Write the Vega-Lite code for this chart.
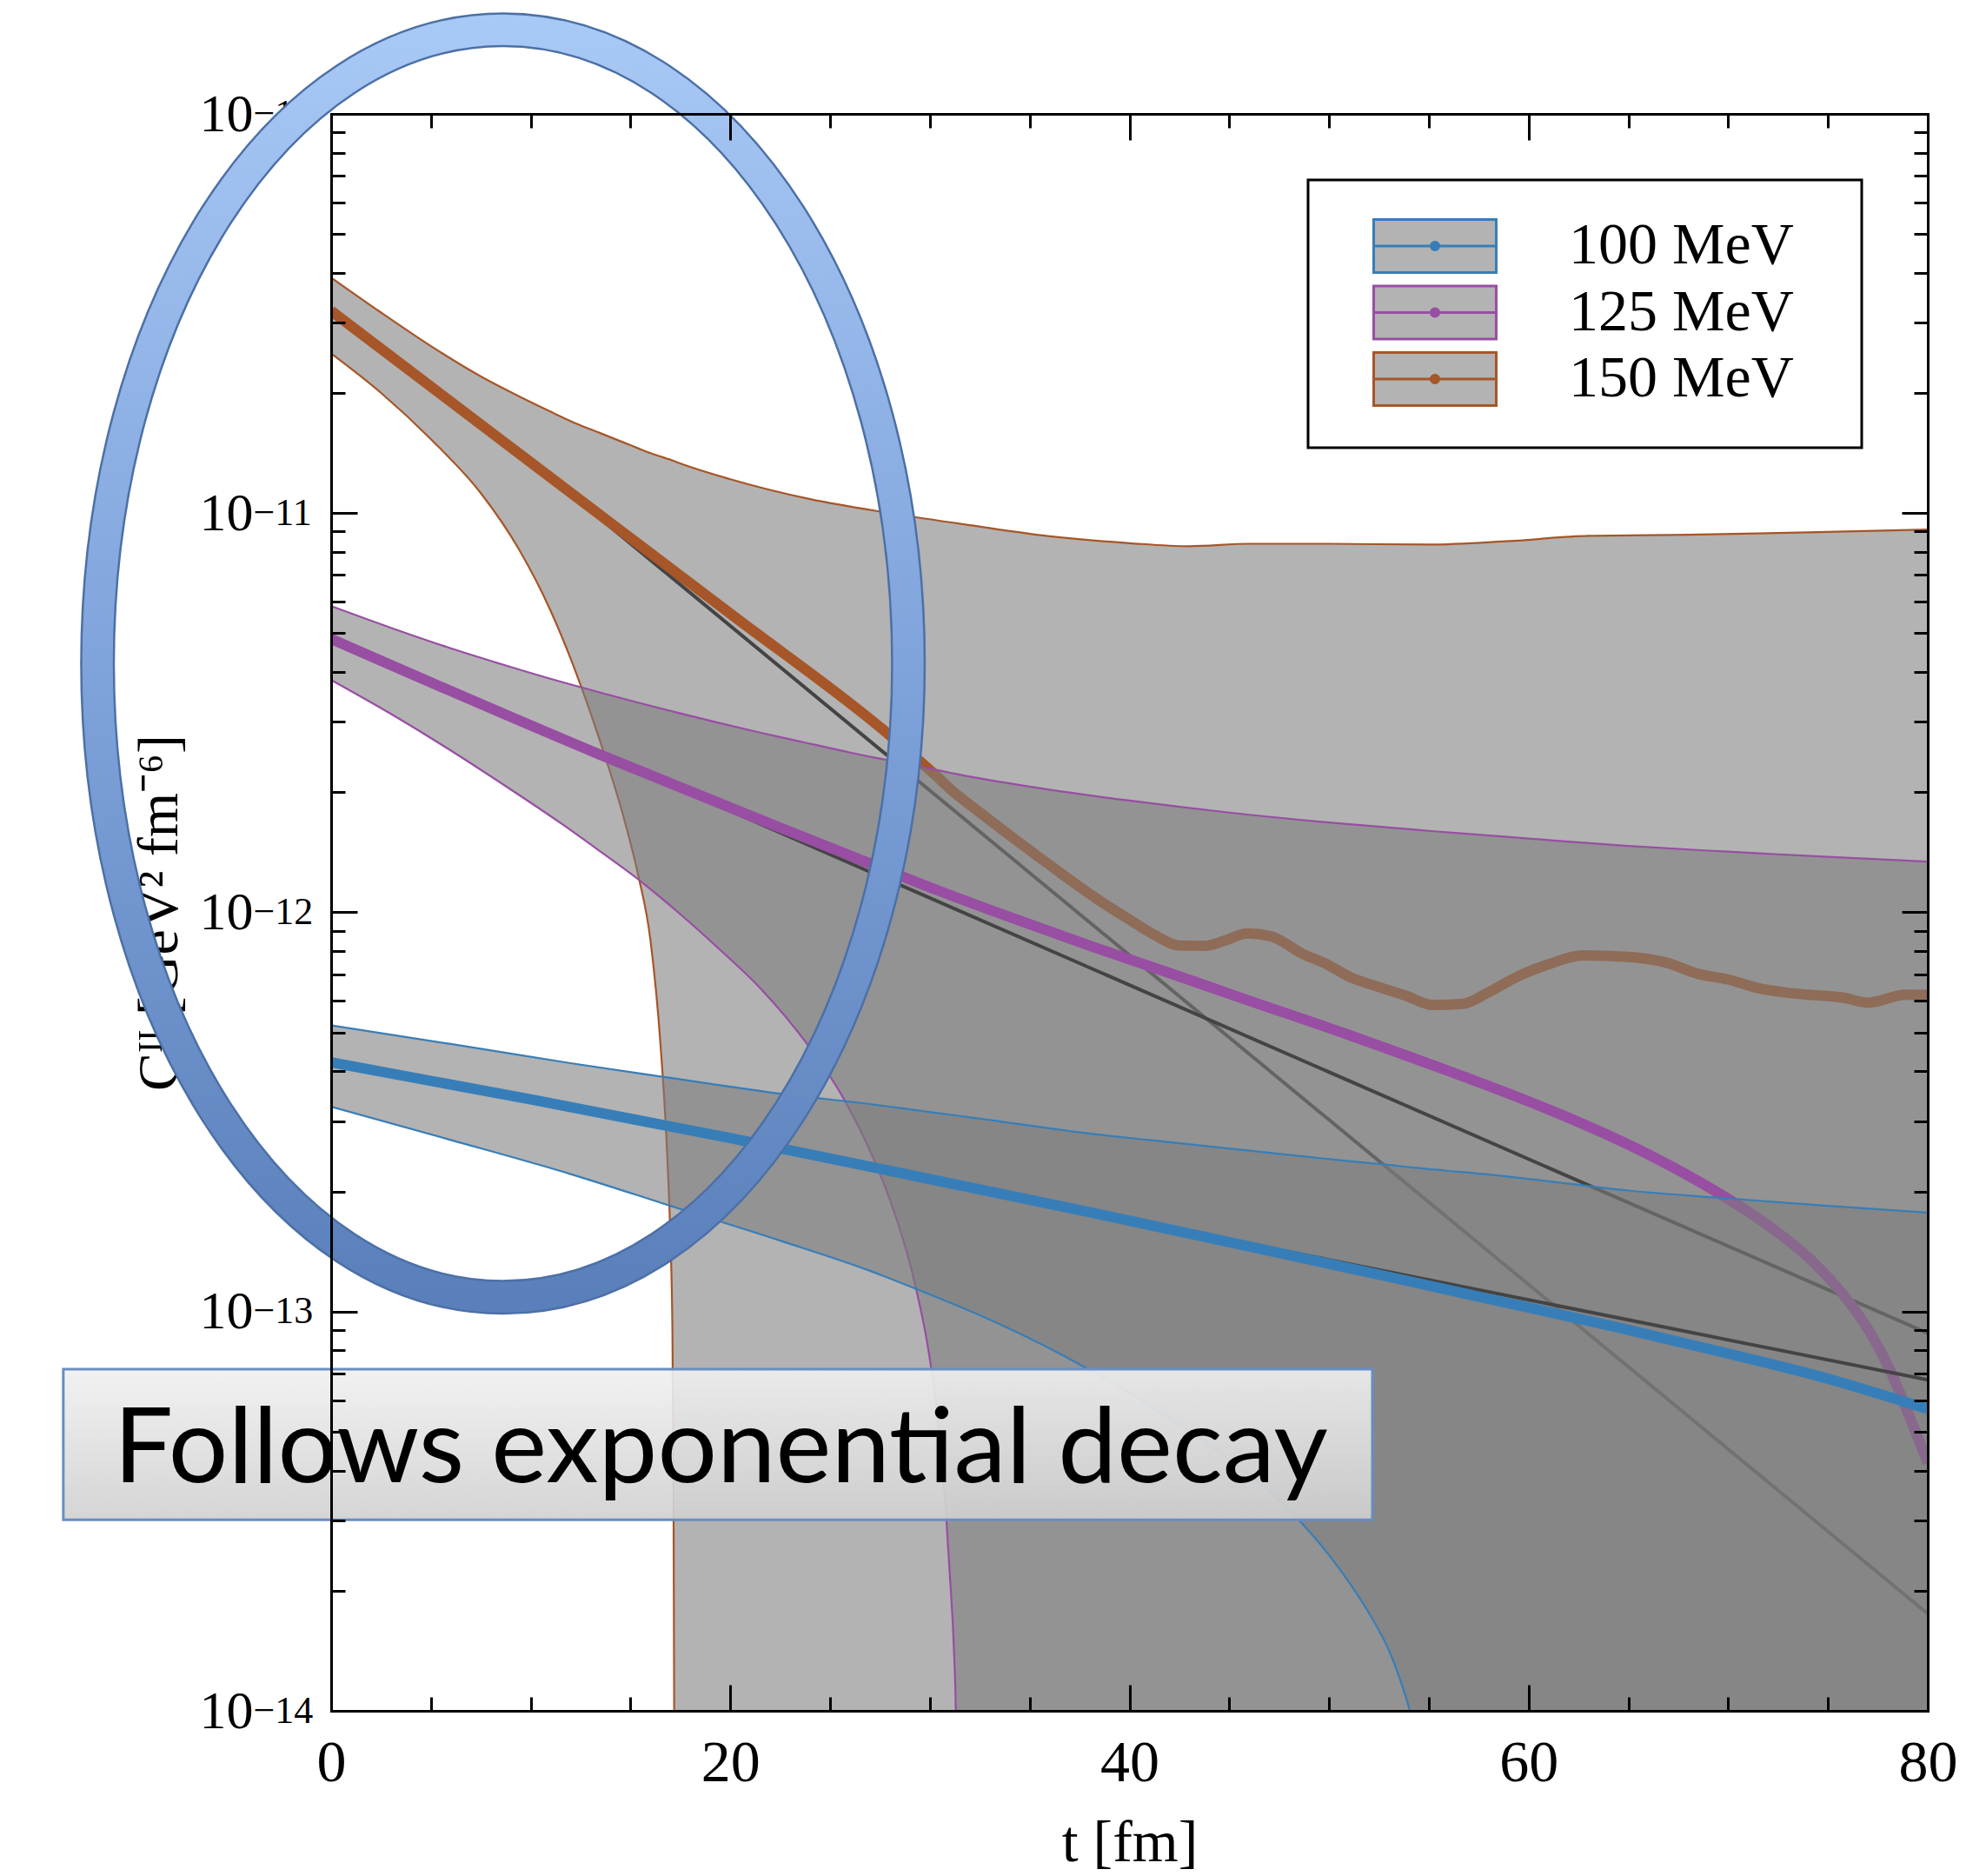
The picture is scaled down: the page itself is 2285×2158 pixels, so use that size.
{
  "$schema": "https://vega.github.io/schema/vega-lite/v6.json",
  "width": 1837,
  "height": 1837,
  "autosize": {"type": "none"},
  "padding": {"left": 381, "top": 131, "right": 67, "bottom": 190},
  "background": "#ffffff",
  "config": {
    "view": {"stroke": null},
    "axis": {"grid": false, "labelColor": "#000000", "tickColor": "#000000", "domainColor": "#000000", "titleColor": "#000000"}
  },
  "datasets": {
    "band": [
      {"s": "150 MeV", "t": 0, "hi": 3.89e-11, "lo": 2.51e-11},
      {"s": "150 MeV", "t": 2.5, "hi": 3.18e-11, "lo": 2.0e-11},
      {"s": "150 MeV", "t": 5, "hi": 2.62e-11, "lo": 1.531e-11},
      {"s": "150 MeV", "t": 7.5, "hi": 2.2e-11, "lo": 1.122e-11},
      {"s": "150 MeV", "t": 9.4, "hi": 1.963e-11, "lo": 8.13e-12},
      {"s": "150 MeV", "t": 11, "hi": 1.795e-11, "lo": 5.69e-12},
      {"s": "150 MeV", "t": 12.2, "hi": 1.683e-11, "lo": 4.07e-12},
      {"s": "150 MeV", "t": 13.5, "hi": 1.585e-11, "lo": 2.66e-12},
      {"s": "150 MeV", "t": 14.7, "hi": 1.5e-11, "lo": 1.698e-12},
      {"s": "150 MeV", "t": 15.4, "hi": 1.452e-11, "lo": 1.23e-12},
      {"s": "150 MeV", "t": 16, "hi": 1.413e-11, "lo": 8.51e-13},
      {"s": "150 MeV", "t": 16.5, "hi": 1.387e-11, "lo": 4.68e-13},
      {"s": "150 MeV", "t": 16.85, "hi": 1.368e-11, "lo": 2.4e-13},
      {"s": "150 MeV", "t": 17.0, "hi": 1.361e-11, "lo": 1.514e-13},
      {"s": "150 MeV", "t": 17.1, "hi": 1.355e-11, "lo": 8.91e-14},
      {"s": "150 MeV", "t": 17.15, "hi": 1.352e-11, "lo": 3.98e-14},
      {"s": "150 MeV", "t": 17.2, "hi": 1.349e-11, "lo": 6.31e-15},
      {"s": "150 MeV", "t": 17.25, "hi": 1.346e-11, "lo": 1e-16},
      {"s": "150 MeV", "t": 20, "hi": 1.216e-11, "lo": 1e-16},
      {"s": "150 MeV", "t": 24, "hi": 1.084e-11, "lo": 1e-16},
      {"s": "150 MeV", "t": 28, "hi": 1.0e-11, "lo": 1e-16},
      {"s": "150 MeV", "t": 32, "hi": 9.33e-12, "lo": 1e-16},
      {"s": "150 MeV", "t": 36, "hi": 8.75e-12, "lo": 1e-16},
      {"s": "150 MeV", "t": 40, "hi": 8.41e-12, "lo": 1e-16},
      {"s": "150 MeV", "t": 43, "hi": 8.26e-12, "lo": 1e-16},
      {"s": "150 MeV", "t": 46, "hi": 8.38e-12, "lo": 1e-16},
      {"s": "150 MeV", "t": 50, "hi": 8.38e-12, "lo": 1e-16},
      {"s": "150 MeV", "t": 55, "hi": 8.34e-12, "lo": 1e-16},
      {"s": "150 MeV", "t": 59, "hi": 8.51e-12, "lo": 1e-16},
      {"s": "150 MeV", "t": 63, "hi": 8.77e-12, "lo": 1e-16},
      {"s": "150 MeV", "t": 68, "hi": 8.83e-12, "lo": 1e-16},
      {"s": "150 MeV", "t": 74, "hi": 8.95e-12, "lo": 1e-16},
      {"s": "150 MeV", "t": 80, "hi": 9.1e-12, "lo": 1e-16},

      {"s": "125 MeV", "t": 0, "hi": 5.85e-12, "lo": 3.82e-12},
      {"s": "125 MeV", "t": 3, "hi": 5.16e-12, "lo": 3.14e-12},
      {"s": "125 MeV", "t": 5.8, "hi": 4.62e-12, "lo": 2.58e-12},
      {"s": "125 MeV", "t": 8.5, "hi": 4.19e-12, "lo": 2.11e-12},
      {"s": "125 MeV", "t": 11.6, "hi": 3.77e-12, "lo": 1.66e-12},
      {"s": "125 MeV", "t": 13.5, "hi": 3.55e-12, "lo": 1.419e-12},
      {"s": "125 MeV", "t": 15.3, "hi": 3.36e-12, "lo": 1.219e-12},
      {"s": "125 MeV", "t": 17.5, "hi": 3.15e-12, "lo": 9.886e-13},
      {"s": "125 MeV", "t": 19.4, "hi": 2.985e-12, "lo": 8.13e-13},
      {"s": "125 MeV", "t": 21.5, "hi": 2.82e-12, "lo": 6.46e-13},
      {"s": "125 MeV", "t": 23.85, "hi": 2.655e-12, "lo": 4.68e-13},
      {"s": "125 MeV", "t": 25.6, "hi": 2.54e-12, "lo": 3.47e-13},
      {"s": "125 MeV", "t": 27.2, "hi": 2.443e-12, "lo": 2.4e-13},
      {"s": "125 MeV", "t": 28.0, "hi": 2.4e-12, "lo": 1.905e-13},
      {"s": "125 MeV", "t": 29.2, "hi": 2.333e-12, "lo": 1.202e-13},
      {"s": "125 MeV", "t": 30.0, "hi": 2.29e-12, "lo": 7.59e-14},
      {"s": "125 MeV", "t": 30.5, "hi": 2.265e-12, "lo": 4.79e-14},
      {"s": "125 MeV", "t": 30.8, "hi": 2.249e-12, "lo": 3.16e-14},
      {"s": "125 MeV", "t": 31.0, "hi": 2.239e-12, "lo": 2.19e-14},
      {"s": "125 MeV", "t": 31.2, "hi": 2.228e-12, "lo": 1.445e-14},
      {"s": "125 MeV", "t": 31.3, "hi": 2.223e-12, "lo": 1.0e-14},
      {"s": "125 MeV", "t": 31.4, "hi": 2.218e-12, "lo": 3.98e-15},
      {"s": "125 MeV", "t": 31.5, "hi": 2.213e-12, "lo": 1e-16},
      {"s": "125 MeV", "t": 35, "hi": 2.065e-12, "lo": 1e-16},
      {"s": "125 MeV", "t": 40, "hi": 1.905e-12, "lo": 1e-16},
      {"s": "125 MeV", "t": 45, "hi": 1.778e-12, "lo": 1e-16},
      {"s": "125 MeV", "t": 50, "hi": 1.679e-12, "lo": 1e-16},
      {"s": "125 MeV", "t": 55, "hi": 1.6e-12, "lo": 1e-16},
      {"s": "125 MeV", "t": 60, "hi": 1.531e-12, "lo": 1e-16},
      {"s": "125 MeV", "t": 65, "hi": 1.466e-12, "lo": 1e-16},
      {"s": "125 MeV", "t": 70, "hi": 1.419e-12, "lo": 1e-16},
      {"s": "125 MeV", "t": 75, "hi": 1.377e-12, "lo": 1e-16},
      {"s": "125 MeV", "t": 80, "hi": 1.34e-12, "lo": 1e-16},

      {"s": "100 MeV", "t": 0, "hi": 5.21e-13, "lo": 3.26e-13},
      {"s": "100 MeV", "t": 6, "hi": 4.68e-13, "lo": 2.69e-13},
      {"s": "100 MeV", "t": 12, "hi": 4.19e-13, "lo": 2.21e-13},
      {"s": "100 MeV", "t": 17, "hi": 3.85e-13, "lo": 1.84e-13},
      {"s": "100 MeV", "t": 22.6, "hi": 3.51e-13, "lo": 1.5e-13},
      {"s": "100 MeV", "t": 27, "hi": 3.31e-13, "lo": 1.265e-13},
      {"s": "100 MeV", "t": 29.4, "hi": 3.19e-13, "lo": 1.135e-13},
      {"s": "100 MeV", "t": 33, "hi": 3.02e-13, "lo": 9.55e-14},
      {"s": "100 MeV", "t": 37.8, "hi": 2.8e-13, "lo": 7.24e-14},
      {"s": "100 MeV", "t": 41, "hi": 2.69e-13, "lo": 5.82e-14},
      {"s": "100 MeV", "t": 44.7, "hi": 2.57e-13, "lo": 4.365e-14},
      {"s": "100 MeV", "t": 48.45, "hi": 2.455e-13, "lo": 3.02e-14},
      {"s": "100 MeV", "t": 50, "hi": 2.41e-13, "lo": 2.455e-14},
      {"s": "100 MeV", "t": 51.1, "hi": 2.38e-13, "lo": 2.065e-14},
      {"s": "100 MeV", "t": 52, "hi": 2.355e-13, "lo": 1.758e-14},
      {"s": "100 MeV", "t": 53.1, "hi": 2.33e-13, "lo": 1.38e-14},
      {"s": "100 MeV", "t": 54, "hi": 2.3e-13, "lo": 1.023e-14},
      {"s": "100 MeV", "t": 54.5, "hi": 2.29e-13, "lo": 8.32e-15},
      {"s": "100 MeV", "t": 55, "hi": 2.275e-13, "lo": 6.03e-15},
      {"s": "100 MeV", "t": 55.5, "hi": 2.265e-13, "lo": 3.55e-15},
      {"s": "100 MeV", "t": 56, "hi": 2.25e-13, "lo": 1.26e-15},
      {"s": "100 MeV", "t": 56.5, "hi": 2.24e-13, "lo": 1e-16},
      {"s": "100 MeV", "t": 60, "hi": 2.15e-13, "lo": 1e-16},
      {"s": "100 MeV", "t": 65, "hi": 2.01e-13, "lo": 1e-16},
      {"s": "100 MeV", "t": 70, "hi": 1.92e-13, "lo": 1e-16},
      {"s": "100 MeV", "t": 75, "hi": 1.84e-13, "lo": 1e-16},
      {"s": "100 MeV", "t": 80, "hi": 1.77e-13, "lo": 1e-16}
    ],
    "curve": [
      {"s": "150 MeV", "k": "mid", "t": 0, "c": 3.21e-11},
      {"s": "150 MeV", "k": "mid", "t": 10, "c": 1.34e-11},
      {"s": "150 MeV", "k": "mid", "t": 20, "c": 5.6e-12},
      {"s": "150 MeV", "k": "mid", "t": 27.9, "c": 2.8e-12},
      {"s": "150 MeV", "k": "mid", "t": 30.35, "c": 2.19e-12},
      {"s": "150 MeV", "k": "mid", "t": 31, "c": 2.04e-12},
      {"s": "150 MeV", "k": "mid", "t": 32.5, "c": 1.78e-12},
      {"s": "150 MeV", "k": "mid", "t": 34.6, "c": 1.48e-12},
      {"s": "150 MeV", "k": "mid", "t": 36.5, "c": 1.26e-12},
      {"s": "150 MeV", "k": "mid", "t": 38.5, "c": 1.07e-12},
      {"s": "150 MeV", "k": "mid", "t": 39.9, "c": 9.66e-13},
      {"s": "150 MeV", "k": "mid", "t": 41.2, "c": 8.81e-13},
      {"s": "150 MeV", "k": "mid", "t": 42.5, "c": 8.26e-13},
      {"s": "150 MeV", "k": "mid", "t": 43.8, "c": 8.24e-13},
      {"s": "150 MeV", "k": "mid", "t": 44.8, "c": 8.51e-13},
      {"s": "150 MeV", "k": "mid", "t": 45.9, "c": 8.85e-13},
      {"s": "150 MeV", "k": "mid", "t": 47.1, "c": 8.71e-13},
      {"s": "150 MeV", "k": "mid", "t": 48.6, "c": 7.91e-13},
      {"s": "150 MeV", "k": "mid", "t": 49.9, "c": 7.41e-13},
      {"s": "150 MeV", "k": "mid", "t": 51.1, "c": 6.87e-13},
      {"s": "150 MeV", "k": "mid", "t": 52.5, "c": 6.5e-13},
      {"s": "150 MeV", "k": "mid", "t": 53.9, "c": 6.17e-13},
      {"s": "150 MeV", "k": "mid", "t": 55.2, "c": 5.86e-13},
      {"s": "150 MeV", "k": "mid", "t": 56.7, "c": 5.9e-13},
      {"s": "150 MeV", "k": "mid", "t": 58.0, "c": 6.31e-13},
      {"s": "150 MeV", "k": "mid", "t": 59.4, "c": 6.89e-13},
      {"s": "150 MeV", "k": "mid", "t": 61.0, "c": 7.41e-13},
      {"s": "150 MeV", "k": "mid", "t": 62.7, "c": 7.8e-13},
      {"s": "150 MeV", "k": "mid", "t": 65.0, "c": 7.73e-13},
      {"s": "150 MeV", "k": "mid", "t": 66.9, "c": 7.48e-13},
      {"s": "150 MeV", "k": "mid", "t": 68.5, "c": 7.01e-13},
      {"s": "150 MeV", "k": "mid", "t": 70.0, "c": 6.79e-13},
      {"s": "150 MeV", "k": "mid", "t": 71.5, "c": 6.46e-13},
      {"s": "150 MeV", "k": "mid", "t": 73.2, "c": 6.27e-13},
      {"s": "150 MeV", "k": "mid", "t": 75.8, "c": 6.11e-13},
      {"s": "150 MeV", "k": "mid", "t": 77.0, "c": 5.94e-13},
      {"s": "150 MeV", "k": "mid", "t": 78.9, "c": 6.22e-13},
      {"s": "150 MeV", "k": "mid", "t": 80, "c": 6.21e-13},
      {"s": "150 MeV", "k": "fit", "t": 10.8, "c": 1.25e-11},
      {"s": "150 MeV", "k": "fit", "t": 80, "c": 1.75e-14},

      {"s": "125 MeV", "k": "mid", "t": 0, "c": 4.84e-12},
      {"s": "125 MeV", "k": "mid", "t": 13.5, "c": 2.48e-12},
      {"s": "125 MeV", "k": "mid", "t": 22.6, "c": 1.622e-12},
      {"s": "125 MeV", "k": "mid", "t": 26.7, "c": 1.343e-12},
      {"s": "125 MeV", "k": "mid", "t": 30.4, "c": 1.135e-12},
      {"s": "125 MeV", "k": "mid", "t": 34, "c": 9.73e-13},
      {"s": "125 MeV", "k": "mid", "t": 38.1, "c": 8.22e-13},
      {"s": "125 MeV", "k": "mid", "t": 42, "c": 7.05e-13},
      {"s": "125 MeV", "k": "mid", "t": 45.9, "c": 6.03e-13},
      {"s": "125 MeV", "k": "mid", "t": 50.9, "c": 4.95e-13},
      {"s": "125 MeV", "k": "mid", "t": 53.1, "c": 4.52e-13},
      {"s": "125 MeV", "k": "mid", "t": 55.8, "c": 4.04e-13},
      {"s": "125 MeV", "k": "mid", "t": 60.6, "c": 3.27e-13},
      {"s": "125 MeV", "k": "mid", "t": 63.55, "c": 2.83e-13},
      {"s": "125 MeV", "k": "mid", "t": 66.46, "c": 2.41e-13},
      {"s": "125 MeV", "k": "mid", "t": 69.38, "c": 2.0e-13},
      {"s": "125 MeV", "k": "mid", "t": 72.3, "c": 1.603e-13},
      {"s": "125 MeV", "k": "mid", "t": 74.24, "c": 1.334e-13},
      {"s": "125 MeV", "k": "mid", "t": 76.19, "c": 1.035e-13},
      {"s": "125 MeV", "k": "mid", "t": 77.2, "c": 8.71e-14},
      {"s": "125 MeV", "k": "mid", "t": 78.14, "c": 7.08e-14},
      {"s": "125 MeV", "k": "mid", "t": 79.1, "c": 5.43e-14},
      {"s": "125 MeV", "k": "mid", "t": 80, "c": 4.17e-14},
      {"s": "125 MeV", "k": "fit", "t": 16.5, "c": 2.14e-12},
      {"s": "125 MeV", "k": "fit", "t": 80, "c": 8.83e-14},

      {"s": "100 MeV", "k": "mid", "t": 0, "c": 4.21e-13},
      {"s": "100 MeV", "k": "mid", "t": 10, "c": 3.4e-13},
      {"s": "100 MeV", "k": "mid", "t": 20, "c": 2.72e-13},
      {"s": "100 MeV", "k": "mid", "t": 30, "c": 2.148e-13},
      {"s": "100 MeV", "k": "mid", "t": 38.1, "c": 1.77e-13},
      {"s": "100 MeV", "k": "mid", "t": 45, "c": 1.493e-13},
      {"s": "100 MeV", "k": "mid", "t": 50.9, "c": 1.288e-13},
      {"s": "100 MeV", "k": "mid", "t": 53.1, "c": 1.219e-13},
      {"s": "100 MeV", "k": "mid", "t": 58, "c": 1.076e-13},
      {"s": "100 MeV", "k": "mid", "t": 64.5, "c": 9.12e-14},
      {"s": "100 MeV", "k": "mid", "t": 70, "c": 7.85e-14},
      {"s": "100 MeV", "k": "mid", "t": 75, "c": 6.79e-14},
      {"s": "100 MeV", "k": "mid", "t": 80, "c": 5.7e-14},
      {"s": "100 MeV", "k": "fit", "t": 35, "c": 1.905e-13},
      {"s": "100 MeV", "k": "fit", "t": 80, "c": 6.745e-14}
    ],
    "ann": [
      {"k": "ellipse", "t": 8.61, "c": 4.2e-12},
      {"k": "box", "t1": -13.42, "t2": 52.17, "c1": 7.17e-14, "c2": 3.01e-14},
      {"k": "text", "t": -10.9, "c": 3.73e-14, "label": "Follows exponen\u200ctial decay"}
    ]
  },
  "resolve": {"axis": {"x": "independent", "y": "independent"}},
  "layer": [
    {
      "data": {"name": "band"},
      "transform": [{"filter": "datum.s === '150 MeV'"}],
      "mark": {"type": "area", "interpolate": "monotone", "fill": "#7c7c7c", "fillOpacity": 0.58, "clip": true},
      "encoding": {
        "x": {"field": "t", "type": "quantitative", "scale": {"domain": [0, 80], "nice": false, "zero": false},
          "axis": {"orient": "bottom", "values": [0, 20, 40, 60, 80], "ticks": false, "domain": false, "labelFont": "Liberation Serif", "labelFontSize": 68, "labelPadding": 26, "labelFlush": false, "labelOverlap": false, "format": "d", "title": "t [fm]", "titleFont": "Liberation Serif", "titleFontSize": 68, "titleFontWeight": "normal", "titlePadding": 24, "zindex": 0}},
        "y": {"field": "hi", "type": "quantitative", "scale": {"type": "log", "domain": [1e-14, 1e-10], "nice": false},
          "axis": {"orient": "left", "values": [1e-14, 1e-13, 1e-12, 1e-11, 1e-10], "labelExpr": "'10'", "ticks": false, "domain": false, "labelFont": "Liberation Serif", "labelFontSize": 62, "labelPadding": 90, "labelAlign": "right", "labelBaseline": "middle", "labelOverlap": false, "title": "Cᴵᴵ [GeV² fm⁻⁶]", "titleFont": "Liberation Serif", "titleFontSize": 66, "titleFontWeight": "normal", "titlePadding": 12, "zindex": 0}},
        "y2": {"field": "lo"}
      }
    },
    {
      "data": {"name": "band"},
      "transform": [{"filter": "datum.s === '150 MeV'"}],
      "mark": {"type": "line", "interpolate": "monotone", "strokeWidth": 2.2, "clip": true},
      "encoding": {
        "x": {"field": "t", "type": "quantitative", "scale": {"domain": [0, 80], "nice": false, "zero": false},
          "axis": {"orient": "bottom", "values": [0, 20, 40, 60, 80], "labels": false, "domain": true, "domainWidth": 3, "domainCap": "square", "tickSize": -30, "tickWidth": 3, "title": null, "zindex": 1}},
        "y": {"field": "hi", "type": "quantitative", "scale": {"type": "log", "domain": [1e-14, 1e-10], "nice": false},
          "axis": {"orient": "left", "values": [1e-14, 1e-13, 1e-12, 1e-11, 1e-10], "labelExpr": "'−' + round(-log(datum.value)/LN10)", "ticks": false, "domain": false, "labelFont": "Liberation Serif", "labelFontSize": 44, "labelPadding": 90, "labelAlign": "left", "labelBaseline": "middle", "labelDy": -22, "labelOverlap": false, "title": null, "zindex": 0}},
        "color": {"field": "s", "type": "nominal",
          "scale": {"domain": ["100 MeV", "125 MeV", "150 MeV"], "range": ["#377eb8", "#984ea3", "#a65628"]},
          "legend": {"title": null, "orient": "top-right", "offset": 76, "padding": 42, "strokeColor": "#000000", "fillColor": "#ffffff",
            "labelFont": "Liberation Serif", "labelFontSize": 68, "labelColor": "#000000", "labelLimit": 600, "labelOffset": 120,
            "symbolType": "M-2.311,-1H2.311V1H-2.311Z M-2.311,0H2.311 M0.15,0A0.15,0.15 0 1,1 -0.15,0A0.15,0.15 0 1,1 0.15,0Z M0.1,0A0.1,0.1 0 1,1 -0.1,0A0.1,0.1 0 1,1 0.1,0Z M0.05,0A0.05,0.05 0 1,1 -0.05,0A0.05,0.05 0 1,1 0.05,0Z M14.52,0L14.52,0",
            "symbolSize": 3721, "symbolOffset": 70, "symbolStrokeWidth": 3, "symbolFillColor": "#b3b3b3", "rowPadding": 2.5,
            "encode": {"symbols": {"update": {"fill": {"value": "#b3b3b3"}, "strokeWidth": {"value": 3}, "opacity": {"value": 1}}}, "legend": {"update": {"strokeWidth": {"value": 3}}}}}}
      }
    },
    {
      "data": {"name": "band"},
      "transform": [{"filter": "datum.s === '150 MeV'"}],
      "mark": {"type": "line", "interpolate": "monotone", "strokeWidth": 2.2, "clip": true},
      "encoding": {
        "x": {"field": "t", "type": "quantitative", "scale": {"domain": [0, 80], "nice": false, "zero": false},
          "axis": {"orient": "bottom", "values": [5, 10, 15, 25, 30, 35, 45, 50, 55, 65, 70, 75], "labels": false, "domain": false, "tickSize": -16, "tickWidth": 3, "title": null, "zindex": 1}},
        "y": {"field": "lo", "type": "quantitative", "scale": {"type": "log", "domain": [1e-14, 1e-10], "nice": false},
          "axis": {"orient": "left", "values": [1e-14, 1e-13, 1e-12, 1e-11, 1e-10], "labels": false, "domain": true, "domainWidth": 3, "domainCap": "square", "tickSize": -30, "tickWidth": 3, "title": null, "zindex": 1}},
        "color": {"field": "s", "type": "nominal", "scale": {"domain": ["100 MeV", "125 MeV", "150 MeV"], "range": ["#377eb8", "#984ea3", "#a65628"]}, "legend": null}
      }
    },
    {
      "data": {"name": "curve"},
      "transform": [{"filter": "datum.s === '150 MeV' && datum.k === 'fit'"}],
      "mark": {"type": "line", "stroke": "#444444", "strokeWidth": 4, "clip": true},
      "encoding": {
        "x": {"field": "t", "type": "quantitative", "scale": {"domain": [0, 80], "nice": false, "zero": false},
          "axis": {"orient": "top", "values": [0, 20, 40, 60, 80], "labels": false, "domain": true, "domainWidth": 3, "domainCap": "square", "tickSize": -30, "tickWidth": 3, "title": null, "zindex": 1}},
        "y": {"field": "c", "type": "quantitative", "scale": {"type": "log", "domain": [1e-14, 1e-10], "nice": false},
          "axis": {"orient": "left", "values": [2e-14, 3e-14, 4e-14, 5e-14, 6e-14, 7e-14, 8e-14, 9e-14, 2e-13, 3e-13, 4e-13, 5e-13, 6e-13, 7e-13, 8e-13, 9e-13, 2e-12, 3e-12, 4e-12, 5e-12, 6e-12, 7e-12, 8e-12, 9e-12, 2e-11, 3e-11, 4e-11, 5e-11, 6e-11, 7e-11, 8e-11, 9e-11], "labels": false, "domain": false, "tickSize": -16, "tickWidth": 3, "title": null, "zindex": 1}}
      }
    },
    {
      "data": {"name": "curve"},
      "transform": [{"filter": "datum.s === '150 MeV' && datum.k === 'mid'"}],
      "mark": {"type": "line", "interpolate": "monotone", "strokeWidth": 12, "clip": true},
      "encoding": {
        "x": {"field": "t", "type": "quantitative", "scale": {"domain": [0, 80], "nice": false, "zero": false},
          "axis": {"orient": "top", "values": [5, 10, 15, 25, 30, 35, 45, 50, 55, 65, 70, 75], "labels": false, "domain": false, "tickSize": -16, "tickWidth": 3, "title": null, "zindex": 1}},
        "y": {"field": "c", "type": "quantitative", "scale": {"type": "log", "domain": [1e-14, 1e-10], "nice": false},
          "axis": {"orient": "right", "values": [1e-14, 1e-13, 1e-12, 1e-11, 1e-10], "labels": false, "domain": true, "domainWidth": 3, "domainCap": "square", "tickSize": -30, "tickWidth": 3, "title": null, "zindex": 1}},
        "color": {"field": "s", "type": "nominal", "scale": {"domain": ["100 MeV", "125 MeV", "150 MeV"], "range": ["#377eb8", "#984ea3", "#a65628"]}, "legend": null}
      }
    },
    {
      "data": {"name": "band"},
      "transform": [{"filter": "datum.s === '125 MeV'"}],
      "mark": {"type": "area", "interpolate": "monotone", "fill": "#7c7c7c", "fillOpacity": 0.58, "clip": true},
      "encoding": {
        "x": {"field": "t", "type": "quantitative", "scale": {"domain": [0, 80], "nice": false, "zero": false}, "axis": null},
        "y": {"field": "hi", "type": "quantitative", "scale": {"type": "log", "domain": [1e-14, 1e-10], "nice": false},
          "axis": {"orient": "right", "values": [2e-14, 3e-14, 4e-14, 5e-14, 6e-14, 7e-14, 8e-14, 9e-14, 2e-13, 3e-13, 4e-13, 5e-13, 6e-13, 7e-13, 8e-13, 9e-13, 2e-12, 3e-12, 4e-12, 5e-12, 6e-12, 7e-12, 8e-12, 9e-12, 2e-11, 3e-11, 4e-11, 5e-11, 6e-11, 7e-11, 8e-11, 9e-11], "labels": false, "domain": false, "tickSize": -16, "tickWidth": 3, "title": null, "zindex": 1}},
        "y2": {"field": "lo"}
      }
    },
    {
      "data": {"name": "band"},
      "transform": [{"filter": "datum.s === '125 MeV'"}],
      "mark": {"type": "line", "interpolate": "monotone", "strokeWidth": 2.2, "clip": true},
      "encoding": {
        "x": {"field": "t", "type": "quantitative", "axis": null},
        "y": {"field": "hi", "type": "quantitative", "axis": null},
        "color": {"field": "s", "type": "nominal", "scale": {"domain": ["100 MeV", "125 MeV", "150 MeV"], "range": ["#377eb8", "#984ea3", "#a65628"]}, "legend": null}
      }
    },
    {
      "data": {"name": "band"},
      "transform": [{"filter": "datum.s === '125 MeV'"}],
      "mark": {"type": "line", "interpolate": "monotone", "strokeWidth": 2.2, "clip": true},
      "encoding": {
        "x": {"field": "t", "type": "quantitative", "axis": null},
        "y": {"field": "lo", "type": "quantitative", "axis": null},
        "color": {"field": "s", "type": "nominal", "scale": {"domain": ["100 MeV", "125 MeV", "150 MeV"], "range": ["#377eb8", "#984ea3", "#a65628"]}, "legend": null}
      }
    },
    {
      "data": {"name": "curve"},
      "transform": [{"filter": "datum.s === '125 MeV' && datum.k === 'fit'"}],
      "mark": {"type": "line", "stroke": "#444444", "strokeWidth": 4, "clip": true},
      "encoding": {
        "x": {"field": "t", "type": "quantitative", "axis": null},
        "y": {"field": "c", "type": "quantitative", "axis": null}
      }
    },
    {
      "data": {"name": "curve"},
      "transform": [{"filter": "datum.s === '125 MeV' && datum.k === 'mid'"}],
      "mark": {"type": "line", "interpolate": "monotone", "strokeWidth": 12, "clip": true},
      "encoding": {
        "x": {"field": "t", "type": "quantitative", "axis": null},
        "y": {"field": "c", "type": "quantitative", "axis": null},
        "color": {"field": "s", "type": "nominal", "scale": {"domain": ["100 MeV", "125 MeV", "150 MeV"], "range": ["#377eb8", "#984ea3", "#a65628"]}, "legend": null}
      }
    },
    {
      "data": {"name": "band"},
      "transform": [{"filter": "datum.s === '100 MeV'"}],
      "mark": {"type": "area", "interpolate": "monotone", "fill": "#7c7c7c", "fillOpacity": 0.58, "clip": true},
      "encoding": {
        "x": {"field": "t", "type": "quantitative", "axis": null},
        "y": {"field": "hi", "type": "quantitative", "axis": null},
        "y2": {"field": "lo"}
      }
    },
    {
      "data": {"name": "band"},
      "transform": [{"filter": "datum.s === '100 MeV'"}],
      "mark": {"type": "line", "interpolate": "monotone", "strokeWidth": 2.2, "clip": true},
      "encoding": {
        "x": {"field": "t", "type": "quantitative", "axis": null},
        "y": {"field": "hi", "type": "quantitative", "axis": null},
        "color": {"field": "s", "type": "nominal", "scale": {"domain": ["100 MeV", "125 MeV", "150 MeV"], "range": ["#377eb8", "#984ea3", "#a65628"]}, "legend": null}
      }
    },
    {
      "data": {"name": "band"},
      "transform": [{"filter": "datum.s === '100 MeV'"}],
      "mark": {"type": "line", "interpolate": "monotone", "strokeWidth": 2.2, "clip": true},
      "encoding": {
        "x": {"field": "t", "type": "quantitative", "axis": null},
        "y": {"field": "lo", "type": "quantitative", "axis": null},
        "color": {"field": "s", "type": "nominal", "scale": {"domain": ["100 MeV", "125 MeV", "150 MeV"], "range": ["#377eb8", "#984ea3", "#a65628"]}, "legend": null}
      }
    },
    {
      "data": {"name": "curve"},
      "transform": [{"filter": "datum.s === '100 MeV' && datum.k === 'fit'"}],
      "mark": {"type": "line", "stroke": "#444444", "strokeWidth": 4, "clip": true},
      "encoding": {
        "x": {"field": "t", "type": "quantitative", "axis": null},
        "y": {"field": "c", "type": "quantitative", "axis": null}
      }
    },
    {
      "data": {"name": "curve"},
      "transform": [{"filter": "datum.s === '100 MeV' && datum.k === 'mid'"}],
      "mark": {"type": "line", "interpolate": "monotone", "strokeWidth": 12, "clip": true},
      "encoding": {
        "x": {"field": "t", "type": "quantitative", "axis": null},
        "y": {"field": "c", "type": "quantitative", "axis": null},
        "color": {"field": "s", "type": "nominal", "scale": {"domain": ["100 MeV", "125 MeV", "150 MeV"], "range": ["#377eb8", "#984ea3", "#a65628"]}, "legend": null}
      }
    },
    {
      "data": {"name": "ann"},
      "transform": [{"filter": "datum.k === 'ellipse'"}],
      "mark": {"type": "point", "shape": "M-1,0A1,1.5627 0 1,0 1,0A1,1.5627 0 1,0 -1,0Z", "size": 870489, "filled": false, "stroke": "#4c70a6", "strokeWidth": 40, "opacity": 1, "clip": false},
      "encoding": {
        "x": {"field": "t", "type": "quantitative", "axis": null},
        "y": {"field": "c", "type": "quantitative", "axis": null}
      }
    },
    {
      "data": {"name": "ann"},
      "transform": [{"filter": "datum.k === 'ellipse'"}],
      "mark": {"type": "point", "shape": "M-1,0A1,1.5627 0 1,0 1,0A1,1.5627 0 1,0 -1,0Z", "size": 870489, "filled": false,
        "stroke": {"gradient": "linear", "x1": 0, "y1": 0, "x2": 0, "y2": 1, "stops": [{"offset": 0, "color": "#a8c8f5"}, {"offset": 0.5, "color": "#7fa3db"}, {"offset": 1, "color": "#5a80bb"}]},
        "strokeWidth": 35, "opacity": 1, "clip": false},
      "encoding": {
        "x": {"field": "t", "type": "quantitative", "axis": null},
        "y": {"field": "c", "type": "quantitative", "axis": null}
      }
    },
    {
      "data": {"name": "ann"},
      "transform": [{"filter": "datum.k === 'box'"}],
      "mark": {"type": "rect", "clip": false,
        "fill": {"gradient": "linear", "x1": 0, "y1": 0, "x2": 0, "y2": 1, "stops": [{"offset": 0, "color": "#f0f0f0"}, {"offset": 1, "color": "#d0d0d0"}]},
        "fillOpacity": 0.9, "stroke": "#6a8dc3", "strokeWidth": 3},
      "encoding": {
        "x": {"field": "t1", "type": "quantitative", "axis": null},
        "x2": {"field": "t2"},
        "y": {"field": "c1", "type": "quantitative", "axis": null},
        "y2": {"field": "c2"}
      }
    },
    {
      "data": {"name": "ann"},
      "transform": [{"filter": "datum.k === 'text'"}],
      "mark": {"type": "text", "clip": false, "font": "Lato", "fontSize": 121, "align": "left", "baseline": "alphabetic", "fill": "#000000"},
      "encoding": {
        "x": {"field": "t", "type": "quantitative", "axis": null},
        "y": {"field": "c", "type": "quantitative", "axis": null},
        "text": {"field": "label"}
      }
    }
  ]
}
